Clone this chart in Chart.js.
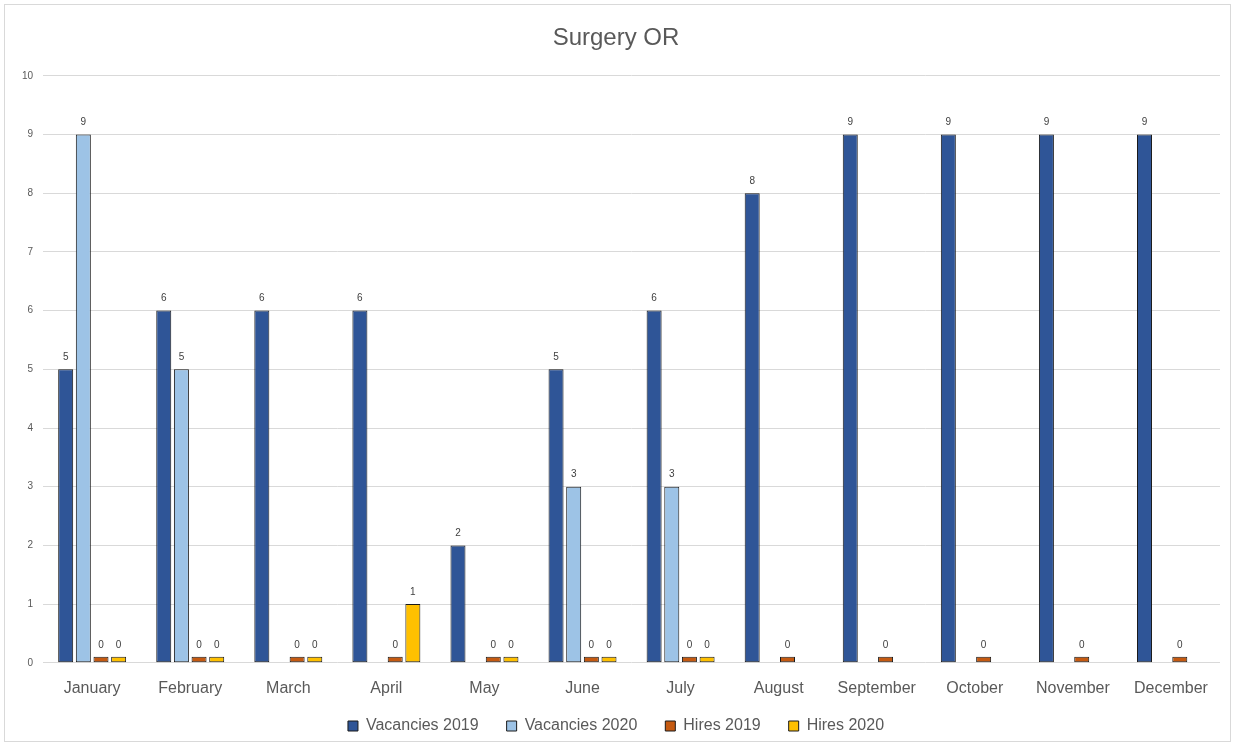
<!DOCTYPE html>
<html><head><meta charset="utf-8">
<script src="https://cdn.jsdelivr.net/npm/chart.js@4.4.0/dist/chart.umd.min.js"></script>
<style>
html,body{margin:0;padding:0;background:#fff;}
#wrap{position:absolute;left:4px;top:4px;width:1227px;height:738px;border:1px solid #d9d9d9;box-sizing:border-box;}
canvas{position:absolute;left:0;top:0;}
</style></head><body>
<div id="wrap"></div>
<canvas id="c" width="1235" height="746"></canvas>
<script>
const months = ["January","February","March","April","May","June","July","August","September","October","November","December"];
const vacancies2019 = [5,6,6,6,2,5,6,8,9,9,9,9];
const vacancies2020 = [9,5,null,null,null,3,3,null,null,null,null,null];
const hires2019 = [0,0,0,0,0,0,0,0,0,0,0,0];
const hires2020 = [0,0,0,1,0,0,0,null,null,null,null,null];
const yTicks = [0,1,2,3,4,5,6,7,8,9,10];

const labelPlugin = {
  id:'barLabels',
  afterDatasetsDraw(chart){
    const ctx = chart.ctx;
    ctx.save();
    ctx.font = '10px "Liberation Sans", Arial, sans-serif';
    ctx.fillStyle = '#404040';
    ctx.textAlign = 'center';
    ctx.textBaseline = 'bottom';
    chart.data.datasets.forEach((ds,i)=>{
      const meta = chart.getDatasetMeta(i);
      meta.data.forEach((bar,j)=>{
        const v = ds.data[j];
        if (v===null || v===undefined) return;
        ctx.fillText(String(v), bar.x, bar.y - 7);
      });
    });
    ctx.restore();
  }
};

// keep wide horizontal legend spacing while using a compact vertical footprint
const legendFitPlugin = {
  id:'legendFit',
  afterInit(chart){
    const lg = chart.legend;
    if (!lg) return;
    const of = lg.fit;
    lg.fit = function(){ of.call(this); this.height = 40; };
  },
  afterLayout(chart){
    const lg = chart.legend;
    if (!lg) return;
    lg.top = 690;
    lg.bottom = chart.height;
    lg.height = lg.bottom - lg.top;
  }
};

const common = {borderColor:'#1a1a1a', borderWidth:1, minBarLength:6, categoryPercentage:0.72, barPercentage:0.85, borderSkipped:false};
new Chart(document.getElementById('c'), {
  type:'bar',
  data:{
    labels: months,
    datasets:[
      Object.assign({label:'Vacancies 2019', data:vacancies2019, backgroundColor:'#2f5597'}, common),
      Object.assign({label:'Vacancies 2020', data:vacancies2020, backgroundColor:'#9dc3e6'}, common),
      Object.assign({label:'Hires 2019', data:hires2019, backgroundColor:'#c55a11'}, common),
      Object.assign({label:'Hires 2020', data:hires2020, backgroundColor:'#ffc000'}, common)
    ]
  },
  options:{
    responsive:false,
    animation:false,
    devicePixelRatio:1,
    layout:{padding:{left:12,right:15,top:10,bottom:0}},
    plugins:{
      title:{display:true, text:'Surgery OR', color:'#595959', font:{family:'"Liberation Sans", Arial, sans-serif', size:24, weight:'normal'}, padding:{top:14,bottom:23}},
      legend:{position:'bottom', labels:{color:'#595959', font:{family:'"Liberation Sans", Arial, sans-serif', size:16}, boxWidth:10, boxHeight:10, padding:28}},
      tooltip:{enabled:false}
    },
    scales:{
      x:{grid:{display:false}, border:{display:false}, ticks:{color:'#595959', font:{family:'"Liberation Sans", Arial, sans-serif', size:16}, padding:8}},
      y:{min:0, max:10, afterBuildTicks:(ax)=>{ax.ticks = yTicks.map(v=>({value:v}));}, grid:{color:'#d9d9d9', drawTicks:false}, border:{display:false}, ticks:{color:'#595959', font:{family:'"Liberation Sans", Arial, sans-serif', size:10}, padding:10}}
    }
  },
  plugins:[labelPlugin, legendFitPlugin]
});
</script>
</body></html>
